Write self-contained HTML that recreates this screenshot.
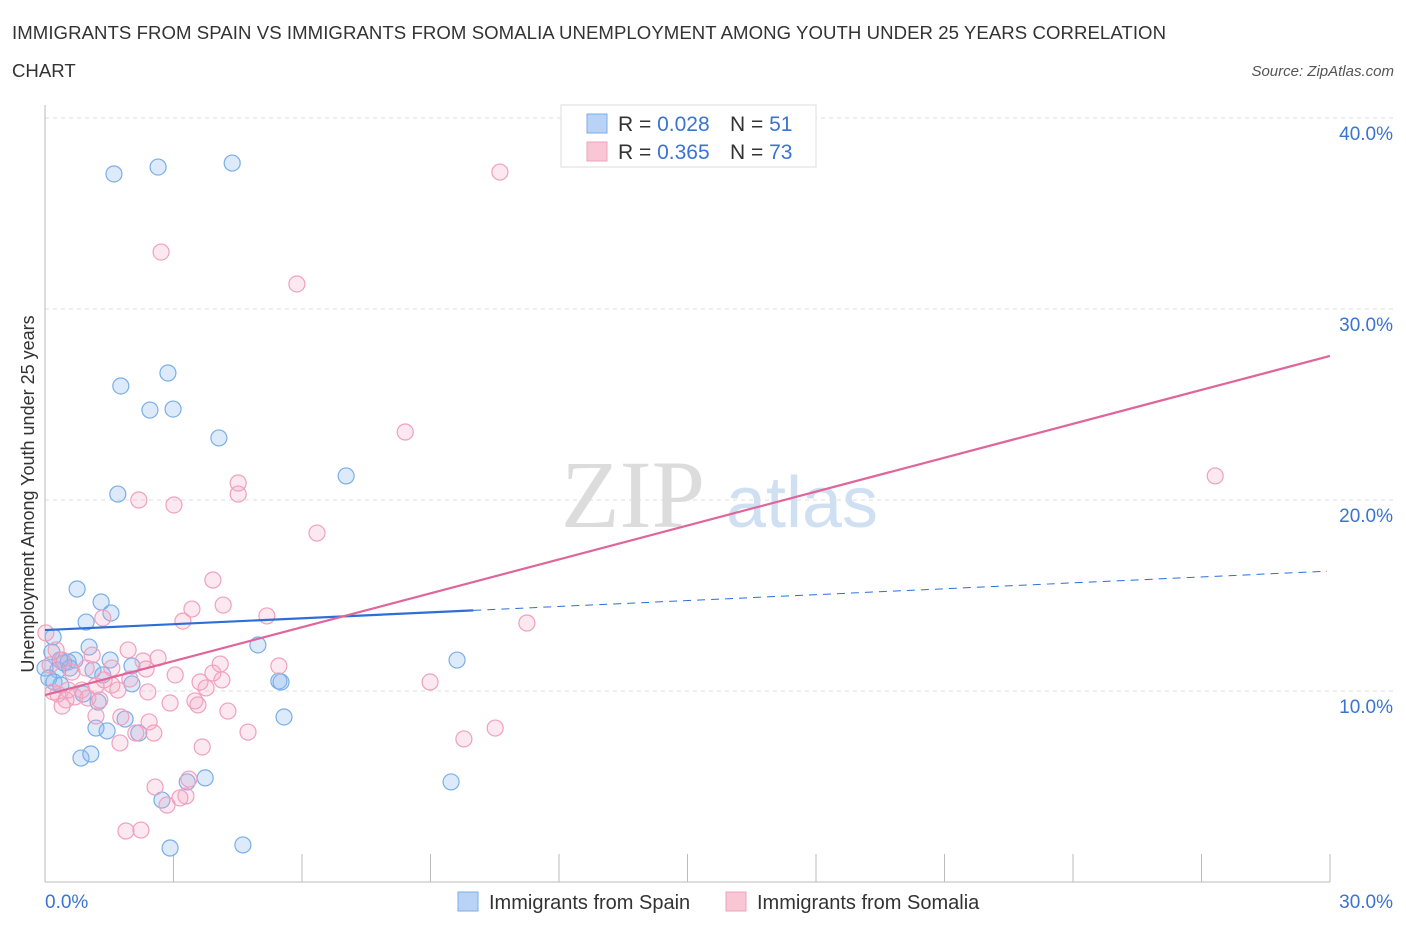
<!DOCTYPE html>
<html><head><meta charset="utf-8"><style>
body{margin:0;background:#fff;font-family:"Liberation Sans",sans-serif;}
svg{display:block}
</style></head><body>
<svg id="chart" width="1406" height="930">
<text x="12" y="39" font-size="18.6" fill="#333" textLength="1154">IMMIGRANTS FROM SPAIN VS IMMIGRANTS FROM SOMALIA UNEMPLOYMENT AMONG YOUTH UNDER 25 YEARS CORRELATION</text>
<text x="12" y="77" font-size="18.6" fill="#333">CHART</text>
<text x="1394" y="76" font-size="15" fill="#555" font-style="italic" text-anchor="end">Source: ZipAtlas.com</text>
<text x="633" y="527" font-size="96" fill="#dcdcdc" text-anchor="middle" font-family="Liberation Serif,serif">ZIP</text>
<text x="802" y="527" font-size="72" fill="#cfe0f3" text-anchor="middle">atlas</text>
<text transform="translate(34,494) rotate(-90)" font-size="18" fill="#333" text-anchor="middle">Unemployment Among Youth under 25 years</text>
<g id="grid"></g><g id="marks"></g><g id="lines"></g>
<g>
<rect x="561" y="105" width="255" height="62" fill="#fff" stroke="#ddd"/>
<rect x="587" y="114" width="20" height="19" fill="#b8d3f5" stroke="#7aaee8"/>
<rect x="587" y="142" width="20" height="19" fill="#f9c6d6" stroke="#f0a0bc"/>
<text x="618" y="131" font-size="21" fill="#333">R = <tspan fill="#3a74d0">0.028</tspan></text>
<text x="730" y="131" font-size="21" fill="#333">N = <tspan fill="#3a74d0">51</tspan></text>
<text x="618" y="159" font-size="21" fill="#333">R = <tspan fill="#3a74d0">0.365</tspan></text>
<text x="730" y="159" font-size="21" fill="#333">N = <tspan fill="#3a74d0">73</tspan></text>
</g>
<g>
<rect x="458" y="892" width="20" height="19" fill="#b8d3f5" stroke="#7aaee8"/>
<text x="489" y="909" font-size="20" fill="#333">Immigrants from Spain</text>
<rect x="726" y="892" width="20" height="19" fill="#f9c6d6" stroke="#f0a0bc"/>
<text x="757" y="909" font-size="20" fill="#333">Immigrants from Somalia</text>
</g>
</svg>
<script>
const yTicks=[10,20,30,40];
const yTickLabels=["10.0%","20.0%","30.0%","40.0%"];
const xTicks=[0,3,6,9,12,15,18,21,24,27,30];
const spainX=[1.61,2.64,4.37,1.77,2.87,2.45,2.99,4.06,1.70,7.03,0.75,1.31,1.54,0.96,0.19,1.03,4.97,9.62,0.16,0.35,0.54,0.70,0.30,0.44,0.0,0.21,1.12,1.35,2.03,2.03,5.46,5.51,0.09,1.24,0.89,1.87,5.58,1.19,1.45,2.19,0.84,1.07,3.74,3.32,9.48,2.73,2.92,4.62,0.37,0.58,1.52];
const spainY=[37.07,37.43,37.64,25.97,26.65,24.71,24.76,23.25,20.31,21.26,15.34,14.66,14.08,13.61,12.83,12.30,12.41,11.62,12.04,11.62,11.52,11.62,11.10,11.47,11.20,10.47,11.10,10.84,11.31,10.37,10.52,10.47,10.68,9.42,9.84,8.53,8.64,8.06,7.91,7.80,6.49,6.70,5.45,5.24,5.24,4.29,1.78,1.94,10.31,11.20,11.62];
const somaliaX=[10.62,2.71,5.88,8.41,27.32,4.51,4.51,2.19,3.01,6.35,3.92,4.16,3.43,3.22,5.18,11.25,1.35,0.02,1.94,2.64,2.29,1.10,4.09,5.46,0.40,0.63,1.56,2.36,3.04,3.92,3.62,4.13,3.76,8.99,1.56,1.70,2.40,0.86,1.19,0.19,0.30,0.49,0.70,1.00,3.50,3.57,0.40,2.92,1.19,1.77,2.43,4.27,4.74,2.54,2.12,1.75,3.67,9.78,10.51,2.57,3.29,3.15,2.85,1.89,2.24,3.36,0.12,1.38,1.98,0.96,0.26,1.28,0.54];
const somaliaY=[37.17,32.98,31.31,23.56,21.26,20.89,20.31,20.0,19.74,18.27,15.81,14.50,14.29,13.66,13.93,13.56,13.82,13.04,12.15,11.73,11.57,11.88,11.41,11.31,11.62,10.99,11.20,11.15,10.84,10.94,10.47,10.58,10.16,10.47,10.31,10.05,9.95,10.05,10.26,9.95,9.84,9.53,9.69,9.63,9.48,9.27,9.21,9.37,8.69,8.64,8.38,8.95,7.85,7.80,7.80,7.28,7.07,7.49,8.06,4.97,4.50,4.40,4.03,2.67,2.72,5.39,11.36,10.58,10.63,11.20,12.15,9.53,10.05];
const spainTrend=[13.19,16.28];
const somaliaTrend=[9.79,27.54];
const spainSolidEnd=10.0;

const X0=45,X1=1330,Y0=882,PYPER=19.1;
const xs=v=>X0+(X1-X0)*v/30;
const ys=v=>Y0-v*PYPER;
const NS="http://www.w3.org/2000/svg";
function mk(tag,attrs,parent){const e=document.createElementNS(NS,tag);for(const k in attrs)e.setAttribute(k,attrs[k]);parent.appendChild(e);return e;}
const grid=document.getElementById('grid'),marks=document.getElementById('marks'),lines=document.getElementById('lines');
yTicks.forEach((t,i)=>{
 const g=mk('line',{x1:X0,x2:1395,y1:ys(t),y2:ys(t),stroke:'#ddd','stroke-dasharray':'4,4'},grid);
 
 
 const tx=mk('text',{x:1393,y:ys(t)+22,'font-size':19,fill:'#3a74d0','text-anchor':'end'},grid);
 tx.textContent=yTickLabels[i];
 
 
});
const ax=mk('line',{x1:X0,x2:X0,y1:105,y2:Y0,stroke:'#bbb'},grid);


const bx=mk('line',{x1:X0,x2:X1,y1:Y0,y2:Y0,stroke:'#bbb'},grid);


xTicks.forEach(t=>{
 const l=mk('line',{x1:xs(t),x2:xs(t),y1:Y0,y2:Y0-28,stroke:'#bbb'},grid);
 
 
});
const xl0=mk('text',{x:45,y:908,'font-size':19,fill:'#3a74d0'},grid);xl0.textContent='0.0%';


const xl1=mk('text',{x:1393,y:908,'font-size':19,fill:'#3a74d0','text-anchor':'end'},grid);xl1.textContent='30.0%';


spainX.forEach((v,i)=>{
 const c=mk('circle',{cx:xs(v),cy:ys(spainY[i]),r:8,fill:'rgba(140,185,240,0.3)',stroke:'#7aaee8','stroke-width':1.2},marks);
 
 
});
somaliaX.forEach((v,i)=>{
 const c=mk('circle',{cx:xs(v),cy:ys(somaliaY[i]),r:8,fill:'rgba(245,165,195,0.25)',stroke:'#f0a0bc','stroke-width':1.2},marks);
 
 
});
const sy=x=>spainTrend[0]+(spainTrend[1]-spainTrend[0])*x/30;
const l1=mk('line',{x1:xs(0),y1:ys(sy(0)),x2:xs(spainSolidEnd),y2:ys(sy(spainSolidEnd)),stroke:'#2e6fd6','stroke-width':2.2},lines);


const l2=mk('line',{x1:xs(spainSolidEnd),y1:ys(sy(spainSolidEnd)),x2:xs(29.93),y2:ys(sy(29.93)),stroke:'#2e6fd6','stroke-width':1,'stroke-dasharray':'8,6'},lines);


const l3=mk('line',{x1:xs(0),y1:ys(somaliaTrend[0]),x2:xs(30),y2:ys(somaliaTrend[1]),stroke:'#e0659a','stroke-width':2.2},lines);


</script>
</body></html>
